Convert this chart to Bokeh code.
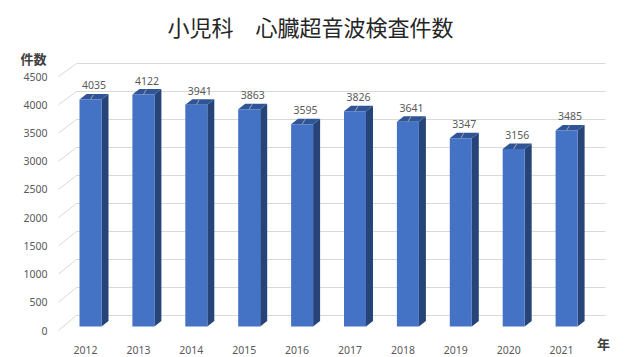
from bokeh.plotting import figure
from bokeh.models import Range1d
from bokeh.core.properties import value
from bokeh.embed import file_html
from bokeh.resources import INLINE

# ---- data ----
years = ["2012", "2013", "2014", "2015", "2016", "2017", "2018", "2019", "2020", "2021"]
counts = [4035, 4122, 3941, 3863, 3595, 3826, 3641, 3347, 3156, 3485]
y_ticks = [0, 500, 1000, 1500, 2000, 2500, 3000, 3500, 4000, 4500]
title_text = "小児科　心臓超音波検査件数"
y_title = "件数"
x_title = "年"

# ---- layout (canvas pixels) ----
W, H = 630, 357
SLOT = 52.9      # px between bar centres
X0 = 90          # canvas x of first bar front centre
K = 0.05626      # px per count on the bar plane
Y0 = 326         # canvas y of zero on the bar plane
HALF = 11        # half width of bar front face
DEP_X, DEP_Y = 7, 5.5   # depth offset of the 3D bars

def dx(px):
    return px / SLOT

def dy(px):
    return px / K

def X(fx):
    return (fx - X0) / SLOT

def Y(fy):
    return (Y0 - fy) / K

def fy_back(v):
    return 315 - v * 0.056

def fy_front(v):
    return 330 - v * 0.05644

p = figure(width=W, height=H,
           x_range=Range1d(X(0), X(W)), y_range=Range1d(Y(H), Y(0)),
           output_backend="svg", toolbar_location=None,
           min_border=0, outline_line_color=None)
p.axis.visible = False
p.grid.visible = False
p.background_fill_color = "white"
p.border_fill_color = "white"

num_font = value("Noto Sans")
cjk_font = value("Noto Sans CJK JP")
grid_col = "#D9D9D9"
text_col = "#595959"

# back wall gridlines and left-side diagonals
p.segment(x0=[X(76)] * len(y_ticks), x1=[X(605)] * len(y_ticks),
          y0=[Y(fy_back(v)) for v in y_ticks], y1=[Y(fy_back(v)) for v in y_ticks],
          line_color=grid_col, line_width=1)
p.segment(x0=[X(58)] * len(y_ticks), x1=[X(76)] * len(y_ticks),
          y0=[Y(fy_front(v)) for v in y_ticks], y1=[Y(fy_back(v)) for v in y_ticks],
          line_color=grid_col, line_width=1)

# y tick labels
p.text(x=[X(47)] * len(y_ticks), y=[Y(fy_front(v)) for v in y_ticks],
       text=[str(v) for v in y_ticks], text_align="right", text_baseline="middle",
       text_font=num_font, text_font_size="10.5px", text_color=text_col)

idx = list(range(len(years)))

# 3D bars: side, top, front
side_xs = [[i + dx(HALF), i + dx(HALF + DEP_X), i + dx(HALF + DEP_X), i + dx(HALF)] for i in idx]
side_ys = [[0, dy(DEP_Y), v + dy(DEP_Y), v] for v in counts]
p.patches(xs=side_xs, ys=side_ys, fill_color="#264478", line_color=None)

top_xs = [[i - dx(HALF), i + dx(HALF), i + dx(HALF + DEP_X), i - dx(HALF - DEP_X)] for i in idx]
top_ys = [[v, v, v + dy(DEP_Y), v + dy(DEP_Y)] for v in counts]
p.patches(xs=top_xs, ys=top_ys, fill_color="#2F5597", line_color=None)

p.vbar(x=idx, width=dx(2 * HALF), top=counts, bottom=0,
       fill_color="#4472C4", line_color=None)

# leader lines and value labels
p.segment(x0=idx, y0=counts, x1=[i + dx(3) for i in idx], y1=[v + dy(5) for v in counts],
          line_color="#A6A6A6", line_width=1)
p.text(x=[i + dx(3.5) for i in idx], y=[v + dy(14) for v in counts],
       text=[str(v) for v in counts], text_align="center", text_baseline="middle",
       text_font=num_font, text_font_size="10.5px", text_color=text_col)

# category labels
p.text(x=[i - dx(5) for i in idx], y=[Y(349)] * len(idx), text=years,
       text_align="center", text_baseline="alphabetic",
       text_font=num_font, text_font_size="10.5px", text_color=text_col)

# titles
p.text(x=[X(310)], y=[Y(25)], text=[title_text], text_align="center", text_baseline="middle",
       text_font=cjk_font, text_font_size="22px", text_color="#262626")
p.text(x=[X(33)], y=[Y(58)], text=[y_title], text_align="center", text_baseline="middle",
       text_font=cjk_font, text_font_size="13px", text_font_style="bold", text_color="#404040")
p.text(x=[X(603)], y=[Y(343)], text=[x_title], text_align="center", text_baseline="middle",
       text_font=cjk_font, text_font_size="13px", text_font_style="bold", text_color="#404040")

open("out.html", "w").write(file_html(p, INLINE))
